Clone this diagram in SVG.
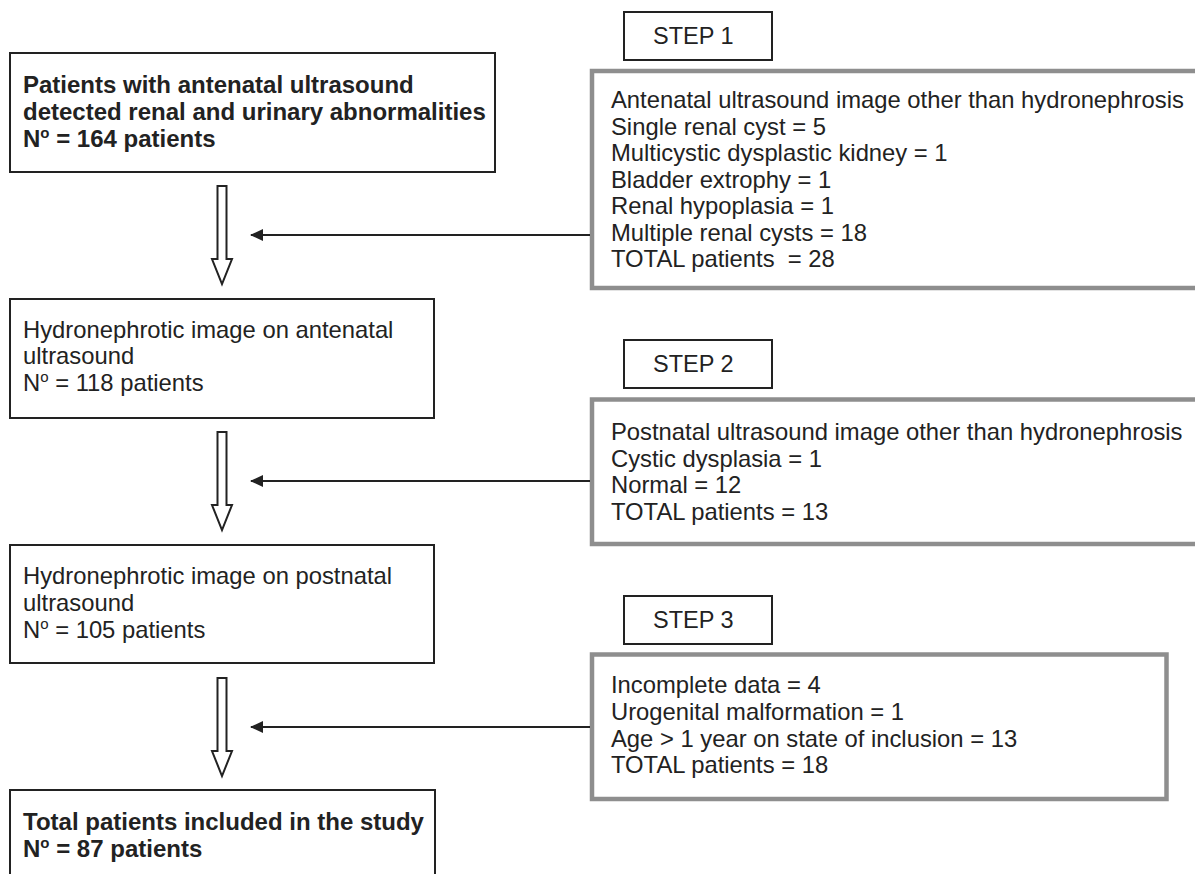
<svg xmlns="http://www.w3.org/2000/svg" width="1195" height="874" viewBox="0 0 1195 874">
<defs>
<style>
.box{fill:#fff;stroke:#222;stroke-width:2}
.gbox{fill:#fff;stroke:#8e8e8e;stroke-width:4.5}
.t{font-family:"Liberation Sans",Arial,sans-serif;font-size:23.8px;fill:#222}
.s{font-family:"Liberation Sans",Arial,sans-serif;font-size:23.5px;fill:#222}
.b{font-family:"Liberation Sans",Arial,sans-serif;font-size:24px;font-weight:bold;fill:#222}
.hollow{fill:#fff;stroke:#222;stroke-width:2}
.line{stroke:#222;stroke-width:2;fill:none}
</style>
<marker id="ah" viewBox="0 0 13 12" refX="12" refY="6" markerWidth="13" markerHeight="12" markerUnits="userSpaceOnUse" orient="auto">
<path d="M0,0 L13,6 L0,12 Z" fill="#222"/>
</marker>
</defs>
<rect width="1195" height="874" fill="#fff"/>

<g id="box1">
<rect class="box" x="10" y="53" width="485" height="119"/>
<text class="b" x="23" y="93">Patients with antenatal ultrasound</text>
<text class="b" x="23" y="120">detected renal and urinary abnormalities</text>
<text class="b" x="23" y="147">N<tspan font-size="15" dy="-9">o</tspan><tspan dy="9"> = 164 patients</tspan></text>
</g>

<g id="step1">
<rect class="box" x="624" y="12" width="148" height="48"/>
<text class="s" x="653" y="44">STEP 1</text>
</g>

<g id="excl1">
<rect class="gbox" x="592" y="71" width="650" height="217"/>
<text class="t" x="611" y="108">Antenatal ultrasound image other than hydronephrosis</text>
<text class="t" x="611" y="134.5">Single renal cyst = 5</text>
<text class="t" x="611" y="161">Multicystic dysplastic kidney = 1</text>
<text class="t" x="611" y="188">Bladder extrophy = 1</text>
<text class="t" x="611" y="214">Renal hypoplasia = 1</text>
<text class="t" x="611" y="241">Multiple renal cysts = 18</text>
<text class="t" x="611" y="267" xml:space="preserve">TOTAL patients  = 28</text>
</g>

<g id="box2">
<rect class="box" x="10" y="299" width="424" height="119"/>
<text class="t" x="23" y="338">Hydronephrotic image on antenatal</text>
<text class="t" x="23" y="364">ultrasound</text>
<text class="t" x="23" y="391">N<tspan font-size="15" dy="-9">o</tspan><tspan dy="9"> = 118 patients</tspan></text>
</g>

<g id="step2">
<rect class="box" x="624" y="340" width="148" height="48"/>
<text class="s" x="653" y="372">STEP 2</text>
</g>

<g id="excl2">
<rect class="gbox" x="592" y="399.5" width="650" height="144.5"/>
<text class="t" x="611" y="440">Postnatal ultrasound image other than hydronephrosis</text>
<text class="t" x="611" y="467">Cystic dysplasia = 1</text>
<text class="t" x="611" y="493">Normal = 12</text>
<text class="t" x="611" y="520">TOTAL patients = 13</text>
</g>

<g id="box3">
<rect class="box" x="10" y="545" width="424" height="118"/>
<text class="t" x="23" y="584">Hydronephrotic image on postnatal</text>
<text class="t" x="23" y="611">ultrasound</text>
<text class="t" x="23" y="638">N<tspan font-size="15" dy="-9">o</tspan><tspan dy="9"> = 105 patients</tspan></text>
</g>

<g id="step3">
<rect class="box" x="624" y="596" width="148" height="48"/>
<text class="s" x="653" y="628">STEP 3</text>
</g>

<g id="excl3">
<rect class="gbox" x="592" y="654.5" width="574.5" height="144.5"/>
<text class="t" x="611" y="693">Incomplete data = 4</text>
<text class="t" x="611" y="720">Urogenital malformation = 1</text>
<text class="t" x="611" y="747">Age &gt; 1 year on state of inclusion = 13</text>
<text class="t" x="611" y="773">TOTAL patients = 18</text>
</g>

<g id="box4">
<rect class="box" x="10" y="790" width="425" height="110"/>
<text class="b" x="23" y="830">Total patients included in the study</text>
<text class="b" x="23" y="857">N<tspan font-size="15" dy="-9">o</tspan><tspan dy="9"> = 87 patients</tspan></text>
</g>

<g id="connectors">
<path class="hollow" d="M217.5,186 H226.5 V259 H232 L222,284 L212,259 H217.5 Z"/>
<path class="hollow" d="M217.5,432 H226.5 V505 H232 L222,530 L212,505 H217.5 Z"/>
<path class="hollow" d="M217.5,678 H226.5 V751 H232 L222,776 L212,751 H217.5 Z"/>
<line class="line" x1="590" y1="235" x2="251" y2="235" marker-end="url(#ah)"/>
<line class="line" x1="590" y1="481" x2="251" y2="481" marker-end="url(#ah)"/>
<line class="line" x1="590" y1="727" x2="251" y2="727" marker-end="url(#ah)"/>
</g>
</svg>
